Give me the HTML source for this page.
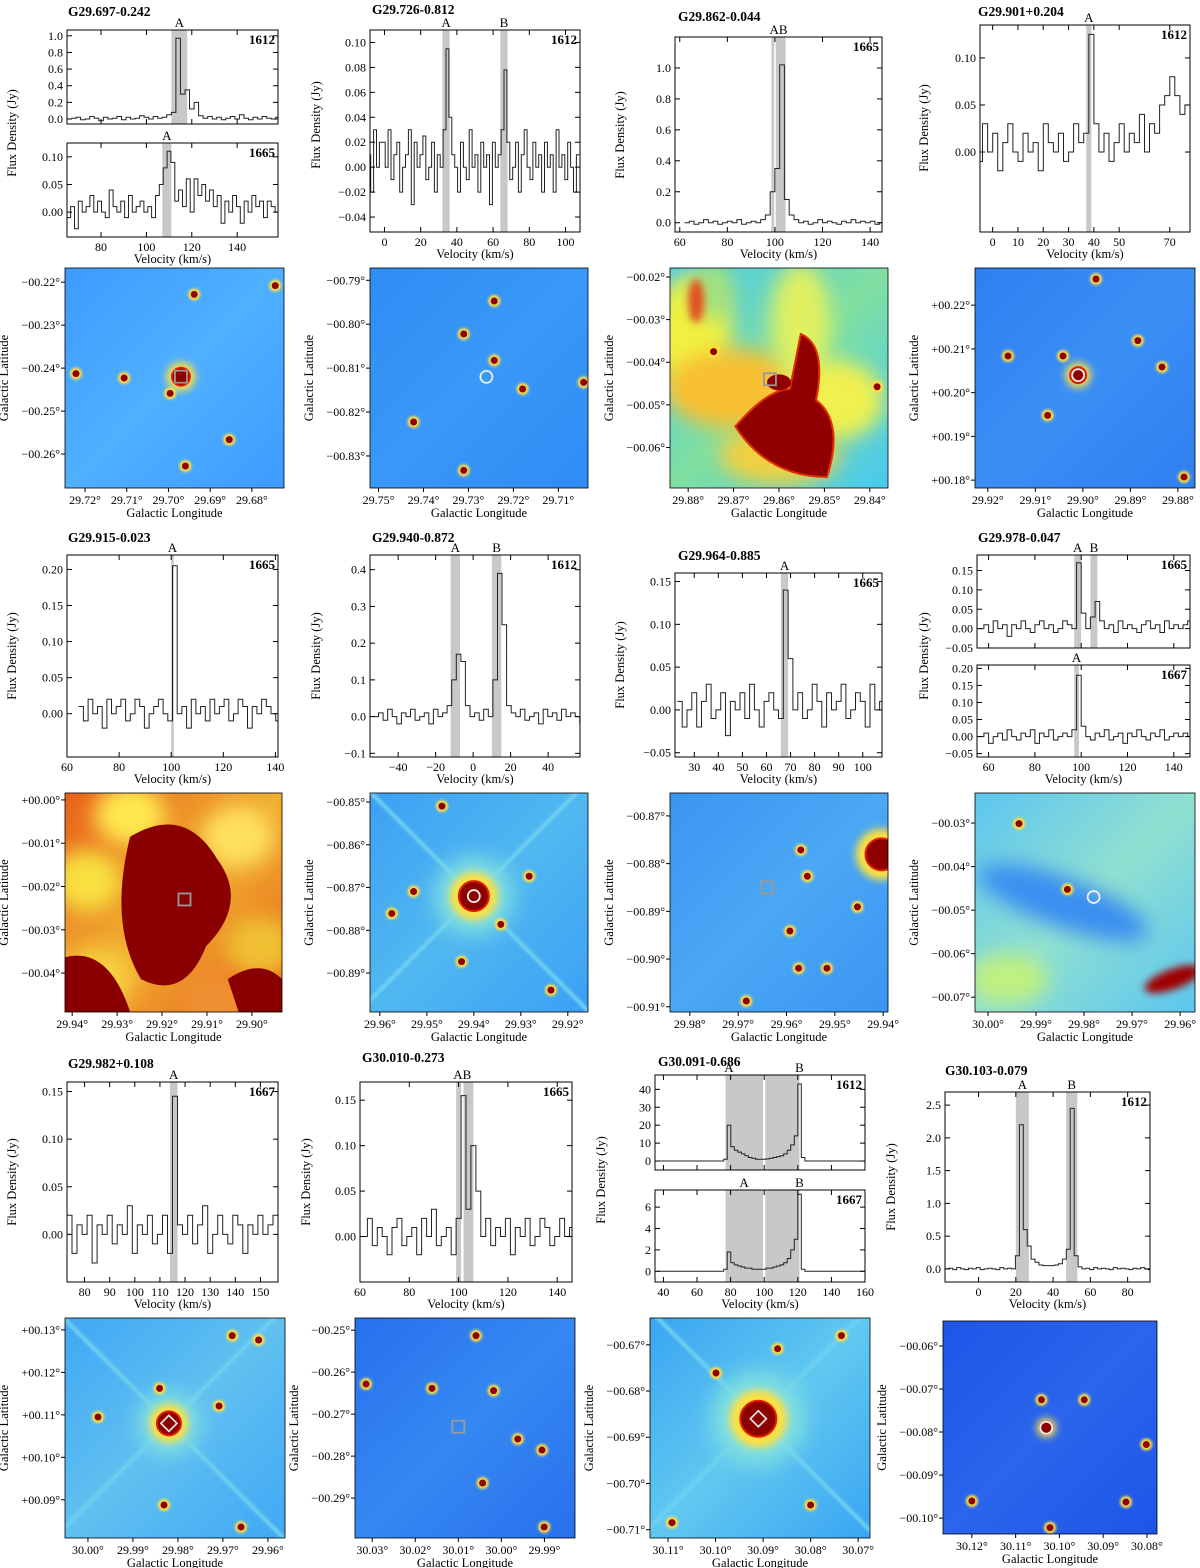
<!DOCTYPE html>
<html><head><meta charset="utf-8"><style>
html,body{margin:0;padding:0;background:#fff}
svg{display:block}
text{font-family:"Liberation Serif",serif;fill:#000}
</style></head><body>
<svg id="fig" width="1200" height="1568" viewBox="0 0 1200 1568" xmlns="http://www.w3.org/2000/svg">
<defs>
<filter id="bl" x="-50%" y="-50%" width="200%" height="200%"><feGaussianBlur stdDeviation="4"/></filter>
<filter id="bl2" x="-50%" y="-50%" width="200%" height="200%"><feGaussianBlur stdDeviation="10"/></filter>
<filter id="bl1" x="-50%" y="-50%" width="200%" height="200%"><feGaussianBlur stdDeviation="1.2"/></filter>
</defs>
</svg>
<script>
// ---------- spectra data ----------
const s1aFlux=[0.01,0.02,-0.01,0.0,0.03,0.01,-0.02,0.02,0.0,0.01,0.03,-0.01,0.02,0.0,0.01,0.04,0.02,0.0,0.03,0.01,0.02,0.05,0.08,0.97,0.30,0.35,0.12,0.20,0.04,0.01,0.03,0.0,0.02,-0.01,0.01,0.03,0.0,0.05,0.01,-0.01,0.02,0.0,0.03,0.01,0.0,0.02,0.01];
const s1bFlux=[0.04,0.0,-0.01,0.01,-0.03,0.02,0.0,0.01,0.03,0.0,0.02,0.0,-0.01,0.04,0.01,0.0,0.02,-0.01,0.03,0.0,0.01,0.02,0.0,0.01,-0.01,0.03,0.05,0.08,0.11,0.09,0.02,0.04,0.01,0.06,0.0,0.06,0.03,0.05,0.02,0.04,0.01,0.03,-0.02,0.02,0.0,0.03,0.01,-0.02,0.02,0.0,0.03,0.01,0.02,-0.01,0.02,0.01,0.0,0.02];
const s2Flux=[0.01,-0.02,0.03,0.0,0.02,0.02,0.0,0.03,-0.01,0.01,0.02,-0.02,0.0,0.01,0.03,-0.03,0.02,0.0,0.01,0.025,-0.01,0.0,0.02,-0.02,0.01,0.0,0.03,0.095,0.04,0.01,0.0,-0.02,0.02,0.0,-0.01,0.03,0.0,0.01,-0.02,0.02,0.0,0.01,-0.03,0.02,0.0,0.01,0.03,0.078,0.02,-0.01,0.0,0.02,-0.02,0.01,0.03,0.0,-0.01,0.02,0.0,0.01,-0.02,0.02,0.0,0.01,-0.02,0.03,0.0,0.01,-0.01,0.02,0.0,-0.02,0.01];
const s3Flux=[0.0,0.01,-0.01,0.0,0.02,0.0,0.01,-0.01,0.0,0.01,0.0,0.02,-0.01,0.0,0.01,0.0,0.02,0.05,0.2,0.35,1.02,0.15,0.05,0.02,0.0,0.01,-0.01,0.0,0.02,0.0,0.01,0.0,-0.01,0.01,0.0,0.02,0.0,0.01,0.0,0.01,-0.01,0.0,0.01,0.0];
const s4Flux=[0.02,-0.01,0.03,0.0,0.02,-0.02,0.01,0.03,0.0,-0.01,0.02,0.0,0.01,-0.02,0.03,0.01,0.0,0.02,-0.01,0.0,0.03,0.01,0.02,0.125,0.03,0.0,0.02,-0.01,0.01,0.03,0.0,0.02,0.01,0.04,0.0,0.03,0.02,0.05,0.06,0.08,0.06,0.04,0.05,0.07];
const s5Flux=[0.01,-0.01,0.02,0.0,0.01,-0.02,0.02,0.0,0.01,0.02,-0.01,0.0,0.02,0.01,-0.02,0.0,0.01,0.02,0.0,-0.01,0.205,0.0,0.01,-0.02,0.02,0.0,0.01,-0.01,0.02,0.0,0.01,0.02,-0.01,0.0,0.02,0.01,-0.02,0.01,0.0,0.02,0.01,0.0,-0.01];
const s6Flux=[0.0,0.01,-0.01,0.02,0.0,-0.02,0.01,0.0,0.02,-0.01,0.0,0.01,-0.02,0.02,0.0,0.01,0.03,0.1,0.17,0.15,0.03,0.0,0.01,-0.01,0.02,0.0,0.1,0.39,0.25,0.03,0.01,0.0,0.02,-0.01,0.0,0.01,-0.02,0.02,0.0,0.01,-0.01,0.02,0.0,0.01,0.0,-0.02,0.01,0.0];
const s7Flux=[0.01,-0.02,0.0,0.02,-0.02,0.01,0.03,-0.01,0.0,0.02,-0.03,0.01,0.0,0.02,-0.01,0.03,0.0,-0.02,0.01,0.02,0.0,-0.01,0.14,0.06,0.0,0.02,-0.01,0.0,0.03,0.01,-0.02,0.02,0.0,0.01,0.03,-0.01,0.0,0.02,0.01,-0.02,0.03,0.0,0.01,0.02,0.0];
const s8aFlux=[0.0,0.01,-0.01,0.02,0.0,0.01,-0.02,0.01,0.0,0.02,0.0,-0.01,0.01,0.02,0.0,0.01,-0.01,0.0,0.02,0.01,0.0,0.17,0.04,0.0,0.03,0.07,0.02,0.0,0.01,-0.01,0.02,0.0,0.01,0.0,-0.01,0.01,0.02,0.0,0.01,-0.01,0.02,0.0,0.01,0.0,0.01,0.02];
const s8bFlux=[0.0,0.01,-0.02,0.0,0.01,-0.01,0.02,0.0,-0.01,0.01,0.0,0.02,-0.02,0.01,0.0,0.02,-0.01,0.0,0.01,0.0,0.02,0.18,0.03,0.0,-0.01,0.01,0.0,0.02,-0.01,0.0,0.01,-0.02,0.01,0.0,0.02,0.0,-0.01,0.01,0.0,0.02,-0.01,0.0,0.01,0.0,0.01,0.0];
const s9Flux=[0.0,0.02,-0.02,0.01,0.0,0.02,-0.03,0.01,0.0,0.02,-0.01,0.01,0.0,0.03,-0.02,0.01,0.0,0.02,-0.01,0.0,0.02,-0.02,0.145,0.01,0.0,0.02,-0.01,0.01,0.03,-0.02,0.0,0.02,0.0,-0.01,0.02,0.01,-0.02,0.01,0.0,0.02,0.0,0.01,0.02];
const s10Flux=[0.0,0.02,-0.01,0.01,0.0,-0.02,0.01,0.02,-0.01,0.0,0.01,-0.02,0.02,0.0,0.03,-0.01,0.0,0.01,-0.02,0.02,0.155,0.03,0.1,0.05,0.0,0.02,-0.01,0.01,0.0,0.02,-0.02,0.01,0.0,0.02,-0.01,0.0,0.02,0.01,-0.01,0.0,0.02,0.0,0.01,0.0];
const s11aFlux=[0,0,0,0,0,0,0,0,0,0,0,0,0,0,0,0,0,0,0,1,20,8,6,5,4,3,2,1.5,1,1,1,1.2,1.5,2,2.5,3,4,6,9,14,43,2,0,0,0,0,0,0,0,0,0,0,0,0,0,0,0,0,0,0,0,0,0];
const s11bFlux=[0,0,0,0,0,0,0,0,0,0,0,0,0,0,0,0,0,0,0,0.2,1.8,0.8,0.6,0.5,0.4,0.3,0.3,0.2,0.2,0.2,0.2,0.3,0.3,0.4,0.5,0.6,0.8,1.2,2,3,7.2,0.2,0,0,0,0,0,0,0,0,0,0,0,0,0,0,0,0,0,0,0,0];
const s12Flux=[0,0.01,-0.01,0.02,0,-0.01,0.01,0,0.02,-0.01,0,0.01,0,-0.01,0.02,0,0.01,0,0.2,2.2,0.6,0.35,0.15,0.1,0.06,0.05,0.05,0.05,0.06,0.08,0.15,0.3,2.45,0.2,0.03,0,0.01,-0.01,0.02,0,0.01,0,-0.01,0.02,0,0.01,0,-0.01,0.01,0,0.02,0,-0.01,0.01,0];
const vStart=[67,61.5,-9.2,62,-8,64.5,-52.9,23,56,56,71,61,36,36,-18];
const vStep=[2,1.7,1.6,2,2,1.8,2.44,2,2,2,2,2,2.1,2.1,2.1];

const svg=document.getElementById('fig');
const NS='http://www.w3.org/2000/svg';
function mk(tag,attrs,parent){const e=document.createElementNS(NS,tag);for(const k in attrs)e.setAttribute(k,attrs[k]);(parent||svg).appendChild(e);return e;}
function txt(x,y,s,size,anchor,parent,extra){const t=mk('text',Object.assign({x:x,y:y,'font-size':size,'text-anchor':anchor||'start'},extra||{}),parent);t.textContent=s;return t;}

const specs=[
 {name:'spectrum-g29697-1612',x:67,y:30,w:211,h:94,v0:65,v1:158,y0:-0.06,y1:1.07,yt:[0,0.2,0.4,0.6,0.8,1.0],yl:['0.0','0.2','0.4','0.6','0.8','1.0'],xt:[80,100,120,140],xl:null,f:s1aFlux,i:0,sh:[[111,118,'A']],lab:'1612'},
 {name:'spectrum-g29697-1665',x:67,y:143,w:211,h:94,v0:65,v1:158,y0:-0.045,y1:0.125,yt:[0,0.05,0.10],yl:['0.00','0.05','0.10'],xt:[80,100,120,140],xl:['80','100','120','140'],f:s1bFlux,i:1,sh:[[107,111,'A']],lab:'1665'},
 {name:'spectrum-g29726',x:370,y:30,w:210,h:202,v0:-8,v1:108,y0:-0.052,y1:0.11,yt:[-0.04,-0.02,0,0.02,0.04,0.06,0.08,0.10],yl:['−0.04','−0.02','0.00','0.02','0.04','0.06','0.08','0.10'],xt:[0,20,40,60,80,100],xl:['0','20','40','60','80','100'],f:s2Flux,i:2,sh:[[32,36,'A'],[64,68,'B']],lab:'1612'},
 {name:'spectrum-g29862',x:675,y:37,w:207,h:195,v0:58,v1:145,y0:-0.06,y1:1.2,yt:[0,0.2,0.4,0.6,0.8,1.0],yl:['0.0','0.2','0.4','0.6','0.8','1.0'],xt:[60,80,100,120,140],xl:['60','80','100','120','140'],f:s3Flux,i:3,sh:[[98.5,104.5,'AB']],white:100,lab:'1665'},
 {name:'spectrum-g29901',x:980,y:25,w:210,h:207,v0:-5,v1:78,y0:-0.085,y1:0.135,yt:[0,0.05,0.10],yl:['0.00','0.05','0.10'],xt:[0,10,20,30,40,50,70],xl:['0','10','20','30','40','50','70'],f:s4Flux,i:4,sh:[[37,39,'A']],lab:'1612'},
 {name:'spectrum-g29915',x:67,y:555,w:211,h:202,v0:60,v1:141,y0:-0.06,y1:0.22,yt:[0,0.05,0.10,0.15,0.20],yl:['0.00','0.05','0.10','0.15','0.20'],xt:[60,80,100,120,140],xl:['60','80','100','120','140'],f:s5Flux,i:5,sh:[[100,101,'A']],lab:'1665'},
 {name:'spectrum-g29940',x:370,y:555,w:210,h:202,v0:-55,v1:57,y0:-0.11,y1:0.44,yt:[-0.1,0,0.1,0.2,0.3,0.4],yl:['−0.1','0.0','0.1','0.2','0.3','0.4'],xt:[-40,-20,0,20,40],xl:['−40','−20','0','20','40'],f:s6Flux,i:6,sh:[[-12,-7,'A'],[10,15,'B']],lab:'1612'},
 {name:'spectrum-g29964',x:675,y:573,w:207,h:184,v0:22,v1:108,y0:-0.055,y1:0.16,yt:[-0.05,0,0.05,0.10,0.15],yl:['−0.05','0.00','0.05','0.10','0.15'],xt:[30,40,50,60,70,80,90,100],xl:['30','40','50','60','70','80','90','100'],f:s7Flux,i:7,sh:[[66,69,'A']],lab:'1665'},
 {name:'spectrum-g29978-1665',x:977,y:555,w:213,h:93,v0:55,v1:147,y0:-0.05,y1:0.19,yt:[-0.05,0,0.05,0.10,0.15],yl:['−0.05','0.00','0.05','0.10','0.15'],xt:[60,80,100,120,140],xl:null,f:s8aFlux,i:8,sh:[[97,100,'A'],[104,107,'B']],lab:'1665'},
 {name:'spectrum-g29978-1667',x:977,y:665,w:213,h:92,v0:55,v1:147,y0:-0.06,y1:0.21,yt:[-0.05,0,0.05,0.10,0.15,0.20],yl:['−0.05','0.00','0.05','0.10','0.15','0.20'],xt:[60,80,100,120,140],xl:['60','80','100','120','140'],f:s8bFlux,i:9,sh:[[97,99,'A']],lab:'1667'},
 {name:'spectrum-g29982',x:67,y:1082,w:211,h:200,v0:73,v1:157,y0:-0.05,y1:0.16,yt:[0,0.05,0.10,0.15],yl:['0.00','0.05','0.10','0.15'],xt:[80,90,100,110,120,130,140,150],xl:['80','90','100','110','120','130','140','150'],f:s9Flux,i:10,sh:[[114,117,'A']],lab:'1667'},
 {name:'spectrum-g30010',x:360,y:1082,w:212,h:200,v0:60,v1:146,y0:-0.05,y1:0.17,yt:[0,0.05,0.10,0.15],yl:['0.00','0.05','0.10','0.15'],xt:[60,80,100,120,140],xl:['60','80','100','120','140'],f:s10Flux,i:11,sh:[[99,101,'A'],[102,106,'B']],abLabel:true,lab:'1665'},
 {name:'spectrum-g30091-1612',x:655,y:1075,w:210,h:95,v0:35,v1:160,y0:-5,y1:48,yt:[0,10,20,30,40],yl:['0','10','20','30','40'],xt:[40,60,80,100,120,140,160],xl:null,f:s11aFlux,i:12,sh:[[77,99.3,'A'],[100.7,121,'B']],lab:'1612',ptl:[[79,'A'],[121,'B']]},
 {name:'spectrum-g30091-1667',x:655,y:1190,w:210,h:92,v0:35,v1:160,y0:-1,y1:7.6,yt:[0,2,4,6],yl:['0','2','4','6'],xt:[40,60,80,100,120,140,160],xl:['40','60','80','100','120','140','160'],f:s11bFlux,i:13,sh:[[77,99.3,'A'],[100.7,121,'B']],lab:'1667',ptl:[[88,'A'],[121,'B']]},
 {name:'spectrum-g30103',x:945,y:1092,w:205,h:190,v0:-18,v1:92,y0:-0.2,y1:2.7,yt:[0,0.5,1.0,1.5,2.0,2.5],yl:['0.0','0.5','1.0','1.5','2.0','2.5'],xt:[0,20,40,60,80],xl:['0','20','40','60','80'],f:s12Flux,i:14,sh:[[20,27,'A'],[47,53,'B']],lab:'1612'}
];
const titles=[['G29.697-0.242',68,16],['G29.726-0.812',372,14],['G29.862-0.044',678,21],['G29.901+0.204',978,16],['G29.915-0.023',68,542],['G29.940-0.872',372,542],['G29.964-0.885',678,560],['G29.978-0.047',978,542],['G29.982+0.108',68,1068],['G30.010-0.273',362,1062],['G30.091-0.686',658,1066],['G30.103-0.079',945,1075]];
titles.forEach(t=>{const e=txt(t[1],t[2],t[0],13.5,'start',null,{'font-weight':'bold'});});

specs.forEach(p=>{
  const g=mk('g',{});
  
  
  const X=v=>p.x+(v-p.v0)/(p.v1-p.v0)*p.w;
  const Y=f=>p.y+p.h-(f-p.y0)/(p.y1-p.y0)*p.h;
  const cp=mk('clipPath',{id:'c'+p.i},g);mk('rect',{x:p.x,y:p.y,width:p.w,height:p.h},cp);
  p.sh.forEach(s=>{const r=mk('rect',{x:X(s[0]),y:p.y,width:X(s[1])-X(s[0]),height:p.h,fill:'#c8c8c8'},g);});
  if(p.white){mk('line',{x1:X(p.white),x2:X(p.white),y1:p.y,y2:p.y+p.h,stroke:'#fff','stroke-width':1.5},g);}
  if(p.ptl){p.ptl.forEach(l=>txt(X(l[0]),p.y-3,l[1],13,'middle',g));}
  else if(p.abLabel){txt(X(101.5),p.y-3,'AB',13,'middle',g);}
  else p.sh.forEach(s=>txt((X(s[0])+X(s[1]))/2,p.y-3,s[2],13,'middle',g));
  const vs=vStart[p.i],dv=vStep[p.i];let d='';
  p.f.forEach((f,k)=>{const xa=X(vs+k*dv),xb=X(vs+(k+1)*dv);d+=(k?'L':'M')+xa.toFixed(1)+','+Y(f).toFixed(1)+'L'+xb.toFixed(1)+','+Y(f).toFixed(1);});
  const pl=mk('path',{d:d,fill:'none',stroke:'#222','stroke-width':1,'clip-path':'url(#c'+p.i+')'},g);
  
  mk('rect',{x:p.x,y:p.y,width:p.w,height:p.h,fill:'none',stroke:'#000','stroke-width':1},g);
  p.yt.forEach((t,k)=>{const y=Y(t);mk('line',{x1:p.x,x2:p.x+5,y1:y,y2:y,stroke:'#000'},g);mk('line',{x1:p.x+p.w,x2:p.x+p.w-5,y1:y,y2:y,stroke:'#000'},g);txt(p.x-4,y+4,p.yl[k],12,'end',g);});
  p.xt.forEach((t,k)=>{const x=X(t);mk('line',{x1:x,x2:x,y1:p.y+p.h,y2:p.y+p.h-5,stroke:'#000'},g);mk('line',{x1:x,x2:x,y1:p.y,y2:p.y+5,stroke:'#000'},g);if(p.xl)txt(x,p.y+p.h+14,p.xl[k],12,'middle',g);});
  txt(p.x+p.w-3,p.y+14,p.lab,13,'end',g,{'font-weight':'bold'});
  if(p.xl){txt(p.x+p.w/2,p.y+p.h+26,'Velocity (km/s)',12.5,'middle',g);}
});
[[16,133],[320,125],[624,135],[928,128],[16,656],[320,656],[624,665],[928,656],[16,1182],[310,1182],[605,1180],[895,1187]].forEach(c=>{const t=txt(c[0],c[1],'Flux Density (Jy)',12.5,'middle',null,{transform:'rotate(-90 '+c[0]+' '+c[1]+')'});});

// ---------- images ----------
const imgs=[
 {x:65,y:268,w:219,h:220,l0:29.7248,l1:29.6723,b0:-0.2167,b1:-0.2679,lt:[29.72,29.71,29.70,29.69,29.68],bt:[-0.22,-0.23,-0.24,-0.25,-0.26],bg:'#3d9bff',bg2:'#4fb0ff',src:[29.697,-0.242],mk:'square',big:[[0,0,9,'halo']],stars:[[0.59,0.12],[0.05,0.48],[0.75,0.78],[0.27,0.5],[0.48,0.57],[0.96,0.08],[0.55,0.9]]},
 {x:370,y:268,w:218,h:220,l0:29.7519,l1:29.7034,b0:-0.7872,b1:-0.8373,lt:[29.75,29.74,29.73,29.72,29.71],bt:[-0.79,-0.80,-0.81,-0.82,-0.83],bg:'#2f8cf5',bg2:'#3a98f8',src:[29.726,-0.812],mk:'circle',stars:[[0.43,0.3],[0.43,0.92],[0.98,0.52],[0.2,0.7],[0.57,0.42],[0.7,0.55],[0.57,0.15]]},
 {x:670,y:268,w:218,h:220,l0:29.884,l1:29.836,b0:-0.0179,b1:-0.0695,lt:[29.88,29.87,29.86,29.85,29.84],bt:[-0.02,-0.03,-0.04,-0.05,-0.06],bg:'#48c8f0',bg2:'#80e0a0',src:[29.862,-0.044],mk:'square',hot:true,stars:[[0.95,0.54],[0.2,0.38]]},
 {x:975,y:268,w:220,h:220,l0:29.9227,l1:29.8764,b0:0.2285,b1:0.1782,lt:[29.92,29.91,29.90,29.89,29.88],bt:[0.22,0.21,0.20,0.19,0.18],bg:'#2f7ff0',bg2:'#3a8ff5',src:[29.901,0.204],mk:'circle',big:[[0,0,8,'halo']],stars:[[0.74,0.33],[0.85,0.45],[0.55,0.05],[0.33,0.67],[0.4,0.4],[0.95,0.95],[0.15,0.4]]},
 {x:65,y:793,w:217,h:219,l0:29.9416,l1:29.8933,b0:0.0016,b1:-0.0490,lt:[29.94,29.93,29.92,29.91,29.90],bt:[0.00,-0.01,-0.02,-0.03,-0.04],bg:'#e8601a',bg2:'#f0b030',src:[29.915,-0.023],mk:'square',fire:true,stars:[]},
 {x:370,y:793,w:218,h:219,l0:29.9621,l1:29.9157,b0:-0.8479,b1:-0.8991,lt:[29.96,29.95,29.94,29.93,29.92],bt:[-0.85,-0.86,-0.87,-0.88,-0.89],bg:'#3ca0f5',bg2:'#50b8f0',src:[29.940,-0.872],mk:'circle',big:[[0,0,15,'spiky']],stars:[[0.42,0.77],[0.1,0.55],[0.2,0.45],[0.73,0.38],[0.33,0.06],[0.83,0.9],[0.6,0.6]]},
 {x:670,y:793,w:218,h:219,l0:29.9841,l1:29.939,b0:-0.8652,b1:-0.9111,lt:[29.98,29.97,29.96,29.95,29.94],bt:[-0.87,-0.88,-0.89,-0.90,-0.91],bg:'#3a95f2',bg2:'#4aa8f5',src:[29.964,-0.885],mk:'square',big:[[0.97,0.28,16,'corner']],stars:[[0.86,0.52],[0.6,0.26],[0.63,0.38],[0.72,0.8],[0.59,0.8],[0.35,0.95],[0.55,0.63]]},
 {x:975,y:793,w:220,h:219,l0:30.0027,l1:29.9569,b0:-0.0231,b1:-0.0734,lt:[30.00,29.99,29.98,29.97,29.96],bt:[-0.03,-0.04,-0.05,-0.06,-0.07],bg:'#5cc5f0',bg2:'#90e0d0',src:[29.978,-0.047],mk:'circle',cyan:true,stars:[[0.2,0.14],[0.42,0.44]]},
 {x:65,y:1318,w:220,h:220,l0:30.0051,l1:29.9562,b0:0.1328,b1:0.0810,lt:[30.00,29.99,29.98,29.97,29.96],bt:[0.13,0.12,0.11,0.10,0.09],bg:'#40a8f5',bg2:'#60c0f0',src:[29.982,0.108],mk:'diamond',big:[[0,0,12,'spiky']],stars:[[0.43,0.32],[0.88,0.1],[0.76,0.08],[0.15,0.45],[0.45,0.85],[0.8,0.95],[0.7,0.4]]},
 {x:355,y:1318,w:220,h:220,l0:30.034,l1:29.9829,b0:-0.2471,b1:-0.2995,lt:[30.03,30.02,30.01,30.00,29.99],bt:[-0.25,-0.26,-0.27,-0.28,-0.29],bg:'#2870ee',bg2:'#3588f2',src:[30.010,-0.273],mk:'square',stars:[[0.05,0.3],[0.55,0.08],[0.63,0.33],[0.74,0.55],[0.85,0.6],[0.86,0.95],[0.58,0.75],[0.35,0.32]]},
 {x:650,y:1318,w:220,h:220,l0:30.1138,l1:30.0675,b0:-0.6642,b1:-0.7118,lt:[30.11,30.10,30.09,30.08,30.07],bt:[-0.67,-0.68,-0.69,-0.70,-0.71],bg:'#3aa5f2',bg2:'#60c8f0',src:[30.091,-0.686],mk:'diamond',big:[[0,0,18,'spiky']],stars:[[0.87,0.08],[0.58,0.14],[0.1,0.93],[0.73,0.85],[0.3,0.25]]},
 {x:943,y:1321,w:214,h:213,l0:30.1266,l1:30.0777,b0:-0.0542,b1:-0.1037,lt:[30.12,30.11,30.10,30.09,30.08],bt:[-0.06,-0.07,-0.08,-0.09,-0.10],bg:'#1e55e8',bg2:'#2a65ec',src:[30.103,-0.079],mk:'circle',big:[[0,0,6,'halo']],stars:[[0.46,0.37],[0.66,0.37],[0.855,0.85],[0.135,0.845],[0.5,0.97],[0.95,0.58]]}
];
function fmtB(v){const s=Math.abs(v).toFixed(2);return (v<0?'−':'+')+(s.length<5?'0'+s:s)+'°';}
imgs.forEach((m,i)=>{
  const g=mk('g',{});
  
  
  const X=l=>m.x+(m.l0-l)/(m.l0-m.l1)*m.w;
  const Y=b=>m.y+(m.b0-b)/(m.b0-m.b1)*m.h;
  const sx=X(m.src[0]),sy=Y(m.src[1]);
  const cp=mk('clipPath',{id:'ic'+i},g);mk('rect',{x:m.x,y:m.y,width:m.w,height:m.h},cp);
  const ig=mk('g',{'clip-path':'url(#ic'+i+')'},g);
  const lg=mk('linearGradient',{id:'lg'+i,x1:0,y1:0,x2:1,y2:1},g);
  mk('stop',{offset:0,'stop-color':m.bg},lg);mk('stop',{offset:0.5,'stop-color':m.bg2},lg);mk('stop',{offset:1,'stop-color':m.bg},lg);
  mk('rect',{x:m.x,y:m.y,width:m.w,height:m.h,fill:'url(#lg'+i+')'},ig);
  const fx=f=>m.x+f*m.w, fy=f=>m.y+f*m.h;
  if(m.hot){
    [[0.1,0.3,40,60,'#f0f040'],[0.3,0.55,70,40,'#f8c030'],[0.6,0.25,30,60,'#e0f060'],[0.2,0.1,20,30,'#a0e080'],[0.75,0.6,50,40,'#f0f050'],[0.5,0.85,60,30,'#f0d040']].forEach(e=>mk('ellipse',{cx:fx(e[0]),cy:fy(e[1]),rx:e[2],ry:e[3],fill:e[4],filter:'url(#bl2)'},ig));
    mk('path',{d:`M${fx(0.3)},${fy(0.72)} Q${fx(0.45)},${fy(0.55)} ${fx(0.55)},${fy(0.55)} L${fx(0.6)},${fy(0.3)} Q${fx(0.72)},${fy(0.35)} ${fx(0.67)},${fy(0.6)} Q${fx(0.8)},${fy(0.7)} ${fx(0.72)},${fy(0.95)} Q${fx(0.45)},${fy(0.95)} ${fx(0.3)},${fy(0.72)}Z`,fill:'#900000',stroke:'#e03000','stroke-width':2},ig);
    mk('ellipse',{cx:fx(0.5),cy:fy(0.52),rx:12,ry:8,fill:'#900000'},ig);
    mk('ellipse',{cx:fx(0.12),cy:fy(0.15),rx:8,ry:22,fill:'#e05020',filter:'url(#bl)'},ig);
  }
  if(m.fire){
    [[0.1,0.4,'#f8e040'],[0.8,0.2,'#ffe060'],[0.9,0.7,'#f0c030'],[0.3,0.1,'#ffe850'],[0.15,0.85,'#f8d040'],[0.7,0.95,'#f09030']].forEach(e=>mk('ellipse',{cx:fx(e[0]),cy:fy(e[1]),rx:35,ry:30,fill:e[2],filter:'url(#bl2)'},ig));
    mk('path',{d:`M${fx(0.3)},${fy(0.2)} Q${fx(0.55)},${fy(0.05)} ${fx(0.7)},${fy(0.3)} Q${fx(0.85)},${fy(0.5)} ${fx(0.65)},${fy(0.7)} Q${fx(0.55)},${fy(0.95)} ${fx(0.35)},${fy(0.85)} Q${fx(0.2)},${fy(0.6)} ${fx(0.3)},${fy(0.2)}Z`,fill:'#8a0000'},ig);
    mk('path',{d:`M${fx(0)},${fy(0.75)} Q${fx(0.2)},${fy(0.7)} ${fx(0.3)},${fy(1)} L${fx(0)},${fy(1)}Z`,fill:'#8a0000'},ig);
    mk('path',{d:`M${fx(0.75)},${fy(0.85)} Q${fx(0.9)},${fy(0.75)} ${fx(1)},${fy(0.85)} L${fx(1)},${fy(1)} L${fx(0.8)},${fy(1)}Z`,fill:'#8a0000'},ig);
  }
  if(m.cyan){
    mk('ellipse',{cx:fx(0.4),cy:fy(0.5),rx:90,ry:25,fill:'#3a8ff0',filter:'url(#bl2)',transform:`rotate(20 ${fx(0.4)} ${fy(0.5)})`},ig);
    mk('ellipse',{cx:fx(0.15),cy:fy(0.85),rx:40,ry:25,fill:'#c0f080',filter:'url(#bl2)'},ig);
    mk('ellipse',{cx:fx(0.9),cy:fy(0.85),rx:30,ry:10,fill:'#a00000',filter:'url(#bl)',transform:`rotate(-20 ${fx(0.9)} ${fy(0.85)})`},ig);
  }
  (m.big||[]).forEach(b=>{
    const onSrc=b[3]!=='corner';
    const cx=onSrc?sx:fx(b[0]),cy=onSrc?sy:fy(b[1]),r=b[2];
    if(b[3]==='spiky'){
      mk('line',{x1:cx-m.w*0.8,y1:cy-m.h*0.8,x2:cx+m.w*0.8,y2:cy+m.h*0.8,stroke:'#70d0f0','stroke-width':4,filter:'url(#bl1)'},ig);
      mk('line',{x1:cx+m.w*0.8,y1:cy-m.h*0.8,x2:cx-m.w*0.8,y2:cy+m.h*0.8,stroke:'#70d0f0','stroke-width':4,filter:'url(#bl1)'},ig);
      mk('circle',{cx:cx,cy:cy,r:r*2.6,fill:'#80e0e0',filter:'url(#bl2)'},ig);
    }
    mk('circle',{cx:cx,cy:cy,r:r*1.6,fill:'#ffe040',filter:'url(#bl)'},ig);
    mk('circle',{cx:cx,cy:cy,r:r,fill:'#8c0000',stroke:'#e02000','stroke-width':2},ig);
  });
  m.stars.forEach(s=>{
    mk('circle',{cx:fx(s[0]),cy:fy(s[1]),r:6,fill:'#ffe040',filter:'url(#bl1)'},ig);
    mk('circle',{cx:fx(s[0]),cy:fy(s[1]),r:3.5,fill:'#900000'},ig);
  });
  let mkEl;
  if(m.mk==='square')mkEl=mk('rect',{x:sx-6,y:sy-6,width:12,height:12,fill:'none',stroke:'#999','stroke-width':1.8},g);
  else if(m.mk==='circle')mkEl=mk('circle',{cx:sx,cy:sy,r:6,fill:'none',stroke:'#eee','stroke-width':1.8},g);
  else mkEl=mk('path',{d:`M${sx},${sy-8}L${sx+8},${sy}L${sx},${sy+8}L${sx-8},${sy}Z`,fill:'none',stroke:'#ddd','stroke-width':1.8},g);
  
  
  mk('rect',{x:m.x,y:m.y,width:m.w,height:m.h,fill:'none',stroke:'#000','stroke-width':0.8},g);
  m.lt.forEach(l=>{const x=X(l);mk('line',{x1:x,x2:x,y1:m.y+m.h,y2:m.y+m.h+4,stroke:'#000'},g);txt(x,m.y+m.h+16,l.toFixed(2)+'°',12,'middle',g);});
  m.bt.forEach(b=>{const y=Y(b);mk('line',{x1:m.x-4,x2:m.x,y1:y,y2:y,stroke:'#000'},g);txt(m.x-5,y+4,fmtB(b),12,'end',g);});
  txt(m.x+m.w/2,m.y+m.h+29,'Galactic Longitude',12.5,'middle',g);
  const lx=m.x-57,ly=m.y+m.h/2;
  txt(lx,ly,'Galactic Latitude',12.5,'middle',g,{transform:`rotate(-90 ${lx} ${ly})`});
});
</script>
</body></html>
